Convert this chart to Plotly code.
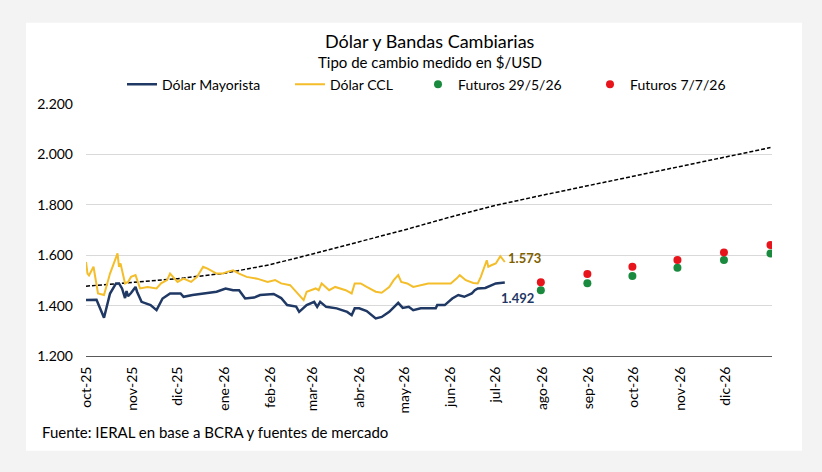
import plotly.graph_objects as go

# ---------------- data ----------------
may_dates = ["2025-10-01","2025-10-08","2025-10-13","2025-10-17","2025-10-21","2025-10-23","2025-10-25","2025-10-27","2025-10-28","2025-10-29","2025-10-31",
             "2025-11-03","2025-11-04","2025-11-07","2025-11-13","2025-11-17","2025-11-21","2025-11-26","2025-12-03","2025-12-05","2025-12-11","2025-12-18","2025-12-27",
             "2026-01-02","2026-01-07","2026-01-11","2026-01-15","2026-01-21","2026-01-25","2026-02-03","2026-02-08","2026-02-12","2026-02-18","2026-02-20","2026-02-25",
             "2026-03-02","2026-03-04","2026-03-06","2026-03-10","2026-03-17","2026-03-24","2026-03-27","2026-03-29","2026-04-01","2026-04-06","2026-04-12","2026-04-16",
             "2026-04-21","2026-04-27","2026-04-30","2026-05-04","2026-05-07","2026-05-12","2026-05-17","2026-05-22","2026-05-23","2026-05-28","2026-06-02","2026-06-06",
             "2026-06-10","2026-06-15","2026-06-17","2026-06-19","2026-06-24","2026-07-01","2026-07-07"]
may_vals = [1422,1423,1352,1448,1488,1488,1468,1430,1458,1437,1450,
            1474,1455,1415,1402,1382,1428,1448,1448,1435,1442,1448,1455,
            1468,1461,1461,1428,1432,1442,1446,1430,1402,1396,1375,1402,
            1415,1395,1415,1395,1389,1375,1362,1389,1389,1378,1349,1355,
            1375,1411,1391,1395,1382,1389,1389,1389,1402,1402,1428,1442,
            1435,1448,1461,1468,1470,1488,1492]

ccl_dates = ["2025-10-01","2025-10-02","2025-10-03","2025-10-06","2025-10-09","2025-10-13","2025-10-17","2025-10-20","2025-10-22","2025-10-23","2025-10-24","2025-10-27","2025-10-29","2025-10-31",
             "2025-11-03","2025-11-06","2025-11-11","2025-11-17","2025-11-20","2025-11-24","2025-11-26","2025-12-01","2025-12-05","2025-12-10","2025-12-14","2025-12-18","2025-12-21","2025-12-27","2025-12-31",
             "2026-01-03","2026-01-07","2026-01-11","2026-01-16","2026-01-23","2026-01-30","2026-02-04","2026-02-08","2026-02-14","2026-02-18","2026-02-23","2026-02-25",
             "2026-03-03","2026-03-05","2026-03-07","2026-03-12","2026-03-16","2026-03-23","2026-03-27","2026-03-29","2026-04-02","2026-04-06","2026-04-12","2026-04-16",
             "2026-04-21","2026-04-24","2026-04-27","2026-04-29","2026-05-03","2026-05-07","2026-05-12","2026-05-17","2026-05-22","2026-05-26","2026-06-01","2026-06-05",
             "2026-06-07","2026-06-11","2026-06-16","2026-06-19","2026-06-21","2026-06-25","2026-06-26","2026-06-28","2026-07-01","2026-07-04","2026-07-06","2026-07-07"]
ccl_vals = [1573,1527,1520,1554,1448,1442,1527,1580,1607,1554,1567,1488,1494,1514,
            1521,1468,1474,1468,1488,1501,1527,1494,1507,1494,1514,1554,1547,1527,1527,
            1534,1540,1527,1514,1507,1494,1501,1488,1481,1455,1422,1455,
            1468,1461,1488,1461,1474,1461,1448,1488,1488,1474,1455,1451,
            1474,1501,1521,1494,1488,1474,1481,1488,1488,1488,1488,1508,
            1521,1501,1490,1488,1514,1580,1554,1560,1567,1596,1580,1573]

band_dates = ["2025-10-01","2025-11-01","2025-12-01","2026-01-01","2026-02-01","2026-03-01","2026-04-01","2026-05-01",
              "2026-06-01","2026-07-01","2026-08-01","2026-09-01","2026-10-01","2026-11-01","2026-12-01","2026-12-31"]
band_vals = [1477,1492,1507,1528,1563,1605,1653,1700,1752,1798,1838,1877,1915,1953,1991,2027]

fut_dates = ["2026-07-31","2026-08-31","2026-09-30","2026-10-30","2026-11-30","2026-12-31"]
fut_295 = [1461,1489,1517,1550,1581,1607]
fut_77 = [1493,1525,1554,1581,1611,1640]

tick_dates = ["2025-10-01","2025-11-01","2025-12-01","2026-01-01","2026-02-01","2026-03-01","2026-04-01","2026-05-01",
              "2026-06-01","2026-07-01","2026-08-01","2026-09-01","2026-10-01","2026-11-01","2026-12-01"]
tick_labels = ["oct-25","nov-25","dic-25","ene-26","feb-26","mar-26","abr-26","may-26",
               "jun-26","jul-26","ago-26","sep-26","oct-26","nov-26","dic-26"]
y_ticks = [1200,1400,1600,1800,2000,2200]
y_labels = ["1.200","1.400","1.600","1.800","2.000","2.200"]

# ---------------- style ----------------
FONT = "Lato, 'Open Sans', sans-serif"
NAVY = "#1f3864"
GOLD = "#f4bd2a"
GREEN = "#1a8a3e"
RED = "#e8141b"

W, H = 822, 472
ML, MR, MT, MB = 86, 50, 103.5, 116
PW, PH = W - ML - MR, H - MT - MB

def px_x(p):
    return (p - ML) / PW

def px_y(p):
    return (H - MB - p) / PH

fig = go.Figure()
fig.add_trace(go.Scatter(x=band_dates, y=band_vals, mode="lines", showlegend=False,
                         line=dict(color="#000000", width=1.5, dash="4px,2px"), hoverinfo="skip"))
fig.add_trace(go.Scatter(x=may_dates, y=may_vals, mode="lines", name="Dólar Mayorista",
                         line=dict(color=NAVY, width=2.5), legend="legend"))
fig.add_trace(go.Scatter(x=ccl_dates, y=ccl_vals, mode="lines", name="Dólar CCL",
                         line=dict(color=GOLD, width=2), legend="legend2"))
fig.add_trace(go.Scatter(x=fut_dates, y=fut_295, mode="markers", name="Futuros 29/5/26",
                         marker=dict(color=GREEN, size=8), legend="legend3"))
fig.add_trace(go.Scatter(x=fut_dates, y=fut_77, mode="markers", name="Futuros 7/7/26",
                         marker=dict(color=RED, size=8), legend="legend4"))

legfont = dict(family=FONT, size=14, color="#000000")
def leg(xp):
    return dict(x=px_x(xp), y=px_y(84), xanchor="left", yanchor="middle", orientation="h",
                bgcolor="rgba(0,0,0,0)", font=legfont, itemwidth=30)

fig.update_layout(
    width=W, height=H,
    margin=dict(l=ML, r=MR, t=MT, b=MB),
    paper_bgcolor="#f3f3f3", plot_bgcolor="#ffffff",
    separators=",.",
    font=dict(family=FONT, size=13, color="#000000"),
    legend=leg(122), legend2=leg(290), legend3=leg(418), legend4=leg(590),
    xaxis=dict(type="date", range=["2025-10-01", "2027-01-01"], tickvals=tick_dates, ticktext=tick_labels,
               tickangle=-90, showgrid=False, showline=True, linecolor="#595959", linewidth=1,
               ticks="", tickfont=dict(size=14, family=FONT), ticklabelstandoff=4, zeroline=False),
    yaxis=dict(range=[1200, 2200], tickvals=y_ticks, ticktext=y_labels, showgrid=True,
               gridcolor="#d9d9d9", gridwidth=1, zeroline=False, showline=False, ticks="",
               tickfont=dict(size=14, family=FONT), ticklabelstandoff=12),
    shapes=[dict(type="rect", xref="paper", yref="paper", x0=px_x(26), x1=px_x(802), y0=px_y(451), y1=px_y(22),
                 fillcolor="#ffffff", line=dict(width=0), layer="below")],
    annotations=[
        dict(text="Dólar y Bandas Cambiarias", xref="paper", yref="paper", x=px_x(430), y=px_y(40),
             showarrow=False, font=dict(size=18, family=FONT), xanchor="center", yanchor="middle"),
        dict(text="Tipo de cambio medido en $/USD", xref="paper", yref="paper", x=px_x(430), y=px_y(61),
             showarrow=False, font=dict(size=15, family=FONT), xanchor="center", yanchor="middle"),
        dict(text="<b>1.573</b>", x=may_dates[-1], y=1590, xref="x", yref="y", showarrow=False,
             xanchor="left", yanchor="middle", xshift=1, font=dict(size=13, color="#7f6000", family=FONT)),
        dict(text="<b>1.492</b>", x=may_dates[-1], y=1430, xref="x", yref="y", showarrow=False,
             xanchor="left", yanchor="middle", xshift=-6, font=dict(size=13, color=NAVY, family=FONT)),
        dict(text="Fuente: IERAL en base a BCRA y fuentes de mercado", xref="paper", yref="paper",
             x=px_x(40), y=px_y(432), showarrow=False, xanchor="left", yanchor="middle",
             font=dict(size=15, family=FONT)),
    ],
)

fig.write_html("out.html")
